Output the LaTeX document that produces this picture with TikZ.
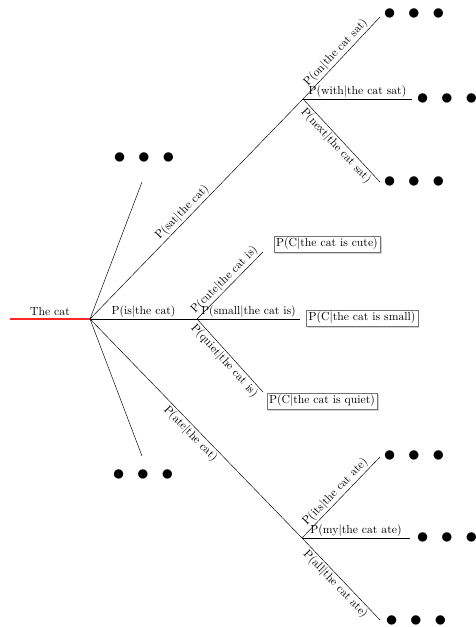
\documentclass[tikz,border=0pt]{standalone}
\usepackage{tikz}
\usetikzlibrary{shadows}
\tikzstyle{prob} = [rectangle, draw=black!55, fill=white, inner sep=2pt, drop shadow={shadow xshift=1.2pt, shadow yshift=-1.2pt, opacity=0.35}]
\tikzstyle{dots} = [inner sep=0pt, font=\fontsize{20}{24}\selectfont]
\tikzstyle{lbl} = [sloped, inner sep=1.5pt]
\newcommand{\threedots}{${\bullet}\hspace{10.5pt}{\bullet}\hspace{10.5pt}{\bullet}$}

\begin{document}
\begin{tikzpicture}[x=0.855pt, y=-0.855pt]
    \useasboundingbox (0,0) rectangle (475,627);
    % branch points
    \coordinate (start) at (10,319);
    \coordinate (root) at (90,319);
    \coordinate (sat) at (303,99);
    \coordinate (is) at (197,319);
    \coordinate (ate) at (302,538);
    \coordinate (up) at (142,182);
    \coordinate (down) at (142,456);
    \coordinate (on) at (380,17);
    \coordinate (with) at (412,99);
    \coordinate (next) at (380,182);
    \coordinate (cute) at (263,252);
    \coordinate (small) at (300,319);
    \coordinate (quiet) at (263,392);
    \coordinate (its) at (380,457);
    \coordinate (my) at (410,538);
    \coordinate (all) at (380,620);

    % dots
    \node(dotsup)[dots] at (144,158) {\threedots};
    \node(dotsdown)[dots] at (143,475) {\threedots};
    \node(dotson)[dots] at (414,14) {\threedots};
    \node(dotswith)[dots] at (447,99) {\threedots};
    \node(dotsnext)[dots] at (414,182) {\threedots};
    \node(dotsits)[dots] at (414,456) {\threedots};
    \node(dotsmy)[dots] at (447,538) {\threedots};
    \node(dotsall)[dots] at (416,621) {\threedots};

    % boxes
    \node(cutebox)[prob] at (327,244) {P(C$|$the cat is cute)};
    \node(smallbox)[prob] at (362,318) {P(C$|$the cat is small)};
    \node(quietbox)[prob] at (322,401) {P(C$|$the cat is quiet)};

    % first word
    \draw[draw=red!85, line width=1pt](start)--node[above, inner sep=2pt, text=black](lcat) {The cat} (root);
    \draw(root)--(up);
    \draw(root)--(down);
    \draw(root)--node[lbl, above, pos=0.46](lsat) {P(sat$|$the cat)} (sat);
    \draw(root)--node[lbl, above](lis) {P(is$|$the cat)} (is);
    \draw(root)--node[lbl, below](late) {P(ate$|$the cat)} (ate);

    % after sat
    \draw(sat)--node[lbl, above](lon) {P(on$|$the cat sat)} (on);
    \draw(sat)--node[lbl, above](lwith) {P(with$|$the cat sat)} (with);
    \draw(sat)--node[lbl, below](lnext) {P(next$|$the cat sat)} (next);

    % after is
    \draw(is)--node[lbl, above](lcute) {P(cute$|$the cat is)} (cute);
    \draw(is)--node[lbl, above](lsmall) {P(small$|$the cat is)} (small);
    \draw(is)--node[lbl, below](lquiet) {P(quiet$|$the cat is)} (quiet);

    % after ate
    \draw(ate)--node[lbl, above](lits) {P(its$|$the cat ate)} (its);
    \draw(ate)--node[lbl, above](lmy) {P(my$|$the cat ate)} (my);
    \draw(ate)--node[lbl, below](lall) {P(all$|$the cat ate)} (all);
\end{tikzpicture}
\end{document}
